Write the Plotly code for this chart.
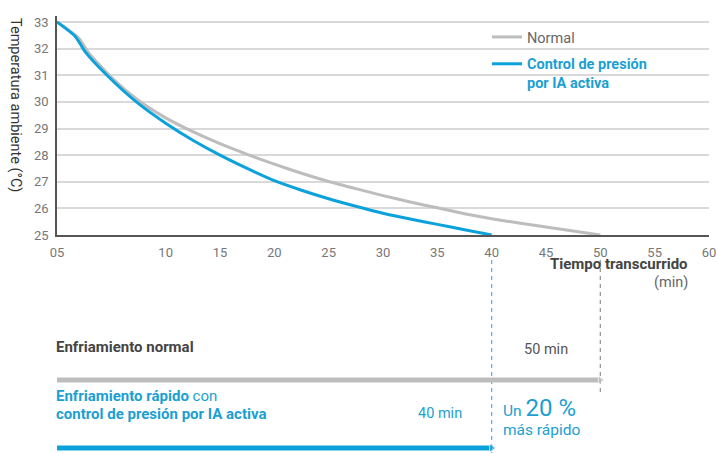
import plotly.graph_objects as go

# cooling curves (minutes, °C)
normal_min = [0, 2.0, 2.9, 5, 7.5, 10, 12.5, 15, 17.5, 20, 22.5, 25, 27.5, 30, 32.5, 35, 37.5, 40, 42.5, 45, 47.5, 50]
normal_temp = [33, 32.4, 31.85, 30.92, 30.05, 29.4, 28.88, 28.43, 28.03, 27.66, 27.32, 27.01, 26.74, 26.48, 26.24,
               26.02, 25.8, 25.61, 25.45, 25.3, 25.15, 25.0]
ai_min = [0, 1.7, 2.6, 4.6, 7.3, 10, 12.5, 15, 17.5, 20, 22.5, 25, 27.5, 30, 32.5, 35, 37.5, 40]
ai_temp = [33, 32.45, 31.88, 31.0, 30.0, 29.2, 28.56, 28.0, 27.5, 27.04, 26.68, 26.36, 26.08, 25.82, 25.6, 25.4,
           25.2, 25.0]

# time to reach 25 °C
normal_duration = 50
ai_duration = 40

x_tickvals = [0, 10, 15, 20, 25, 30, 35, 40, 45, 50, 55, 60]
x_ticktext = ["05", "10", "15", "20", "25", "30", "35", "40", "45", "50", "55", "60"]
y_tickvals = [25, 26, 27, 28, 29, 30, 31, 32, 33]

GRAY = "#bdbdbd"
BLUE = "#0ba2dc"
BLUE_TXT = "#1b9fd2"
DARK = "#444444"
FONT = "Roboto"

W, H = 717, 453
TOP, LEFT, RIGHT = 16, 57, 8
PLOT_H = H - TOP
main_bottom = (H - 235) / PLOT_H
low_top = 0.47
low_range = low_top * PLOT_H


def py(v):
    """page pixel row -> value on the lower helper axis"""
    return H - v


def paper_y(v):
    return (H - v) / PLOT_H


def paper_x(v):
    return (v - LEFT) / (W - LEFT - RIGHT)


fig = go.Figure()

fig.add_trace(go.Scatter(x=normal_min, y=normal_temp, mode="lines", name="Normal", legendgroup="normal",
                         line=dict(color=GRAY, width=3, shape="spline", smoothing=0.6), hoverinfo="skip"))
fig.add_trace(go.Scatter(x=ai_min, y=ai_temp, mode="lines", legendgroup="ai",
                         name=f"<span style='color:{BLUE_TXT}'><b>Control de presión</b><br><b>por IA activa</b></span>",
                         line=dict(color=BLUE, width=3, shape="spline", smoothing=0.6), hoverinfo="skip"))

# lower panel: duration bars and guide lines
fig.add_trace(go.Scatter(x=[ai_duration, ai_duration], y=[py(260), 0], yaxis="y2", mode="lines",
                         line=dict(color="#5bb8de", width=1.3, dash="4px,4px"),
                         showlegend=False, hoverinfo="skip"))
fig.add_trace(go.Scatter(x=[normal_duration, normal_duration], y=[py(260), py(395)], yaxis="y2", mode="lines",
                         line=dict(color="#9a9a9a", width=1.3, dash="4px,4px"),
                         showlegend=False, hoverinfo="skip"))
fig.add_trace(go.Scatter(x=[0, normal_duration], y=[py(380), py(380)], yaxis="y2", mode="lines+markers",
                         line=dict(color=GRAY, width=5),
                         marker=dict(symbol=["line-ns", "triangle-right"], size=[0, 8], color=GRAY),
                         showlegend=False, hoverinfo="skip"))
fig.add_trace(go.Scatter(x=[0, ai_duration], y=[py(448), py(448)], yaxis="y2", mode="lines+markers",
                         line=dict(color=BLUE, width=5),
                         marker=dict(symbol=["line-ns", "triangle-right"], size=[0, 8], color=BLUE),
                         showlegend=False, hoverinfo="skip"))

ann = [
    dict(text="Temperatura ambiente (°C)", xref="paper", yref="paper", x=paper_x(16), y=paper_y(105),
         xanchor="center", yanchor="middle", textangle=90, showarrow=False,
         font=dict(size=14.5, color="#333333")),
    dict(text="<b>Tiempo transcurrido</b>", xref="paper", yref="paper", x=paper_x(690), y=paper_y(264),
         xanchor="right", yanchor="middle", showarrow=False, font=dict(size=15, color=DARK)),
    dict(text="(min)", xref="paper", yref="paper", x=paper_x(690), y=paper_y(282),
         xanchor="right", yanchor="middle", showarrow=False, font=dict(size=14.5, color="#666666")),
    dict(text="<b>Enfriamiento normal</b>", xref="paper", yref="paper", x=paper_x(54), y=paper_y(347),
         xanchor="left", yanchor="middle", showarrow=False, font=dict(size=15, color=DARK)),
    dict(text=f"{normal_duration} min", xref="x", yref="y2", x=45, y=py(349),
         showarrow=False, font=dict(size=14.5, color="#555555")),
    dict(text="<b>Enfriamiento rápido</b> con", xref="paper", yref="paper", x=paper_x(54), y=paper_y(396),
         xanchor="left", yanchor="middle", showarrow=False, font=dict(size=15, color=BLUE_TXT)),
    dict(text="<b>control de presión por IA activa</b>", xref="paper", yref="paper", x=paper_x(54),
         y=paper_y(414), xanchor="left", yanchor="middle", showarrow=False, font=dict(size=15, color=BLUE_TXT)),
    dict(text=f"{ai_duration} min", xref="x", yref="y2", x=35.2, y=py(413),
         showarrow=False, font=dict(size=14.5, color=BLUE_TXT)),
    dict(text="Un <span style='font-size:24px'>20 %</span>", xref="x", yref="y2", x=40.9, y=py(408),
         xanchor="left", showarrow=False, font=dict(size=15.5, color=BLUE_TXT)),
    dict(text="más rápido", xref="x", yref="y2", x=40.9, y=py(430), xanchor="left",
         showarrow=False, font=dict(size=15.5, color=BLUE_TXT)),
]

fig.update_layout(
    width=W, height=H,
    margin=dict(l=LEFT, r=RIGHT, t=TOP, b=0, autoexpand=False),
    paper_bgcolor="white", plot_bgcolor="white",
    font=dict(family=FONT, size=13, color="#666666"),
    xaxis=dict(range=[0, 60], tickvals=x_tickvals, ticktext=x_ticktext, showgrid=False, zeroline=False,
               showline=True, linecolor="#555555", linewidth=1.5, ticks="", anchor="y", automargin=False,
               ticklabelstandoff=5, ticklabeloverflow="allow", tickfont=dict(size=13, color="#777777"),
               fixedrange=True),
    yaxis=dict(domain=[main_bottom, 1], range=[25, 33.225], tickvals=y_tickvals, showgrid=True,
               gridcolor="#d9d9d9", gridwidth=1.5, zeroline=False, showline=True, linecolor="#555555",
               linewidth=1.5, ticks="", automargin=False, ticklabelstandoff=4,
               tickfont=dict(size=13, color="#777777"), fixedrange=True),
    yaxis2=dict(domain=[0, low_top], range=[0, low_range], visible=False, fixedrange=True, anchor="x"),
    legend=dict(x=paper_x(487), y=paper_y(21), xanchor="left", yanchor="top", bgcolor="rgba(0,0,0,0)",
                font=dict(size=14.5, color="#666666"), traceorder="grouped", tracegroupgap=5, valign="top"),
    annotations=ann,
    showlegend=True,
)

# drop the default 8px page margin so the figure sits at the window's corner
fig.write_html("out.html", config={"displayModeBar": False},
               post_script="document.body.style.margin='0';document.body.style.overflow='hidden';")
